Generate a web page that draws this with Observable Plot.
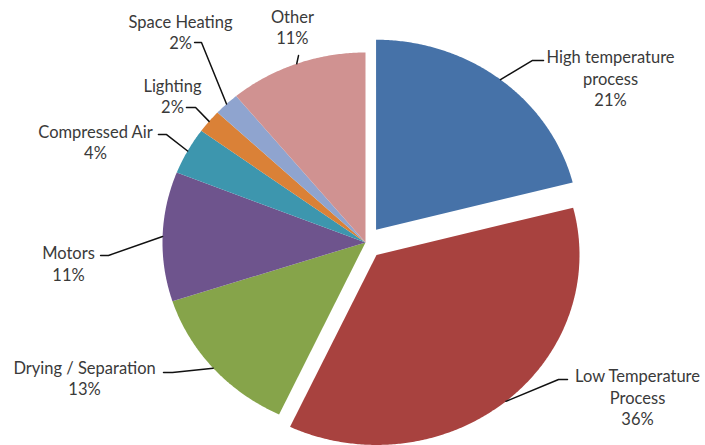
<!DOCTYPE html>
<html><head><meta charset="utf-8">
<script src="https://cdn.jsdelivr.net/npm/d3@7"></script>
<script src="https://cdn.jsdelivr.net/npm/@observablehq/plot@0.6"></script>
<style>body{margin:0;background:#fff}#chart svg{display:block}</style>
</head><body><div id="chart"></div>
<script>
// ---- data ----
const categories = ["High temperature process", "Low Temperature Process", "Drying / Separation", "Motors", "Compressed Air", "Lighting", "Space Heating", "Other"];
const labelLines = ["High temperature\nprocess", "Low Temperature\nProcess", "Drying / Separation", "Motors", "Compressed Air", "Lighting", "Space Heating", "Other"];
const shares = [21, 36, 13, 11, 4, 2, 2, 11];
const percentLabels = ["21%", "36%", "13%", "11%", "4%", "2%", "2%", "11%"];

// ---- style / layout (pie units: radius = 1) ----
const colors = ["#4672A8", "#A8423F", "#86A44A", "#6E548D", "#3D96AE", "#DA8137", "#8FA4CF", "#D09291"];
const explode = [0.085, 0.085, 0, 0, 0, 0, 0, 0];
const labelPos = [[1.207, -0.866], [1.340, 0.813], [-1.384, 0.711], [-1.463, 0.108], [-1.330, -0.532], [-0.951, -0.774], [-0.911, -1.111], [-0.360, -1.137]];
const leaderElbow = [[0.823, -0.958], [0.951, 0.721], [-0.951, 0.684], [-1.266, 0.068], [-0.980, -0.568], [-0.837, -0.711], [-0.808, -1.053], [-0.330, -0.984]];
const leaderEnd = [[0.877, -0.958], [0.995, 0.721], [-0.995, 0.684], [-1.305, 0.068], [-1.020, -0.568], [-0.882, -0.711], [-0.842, -1.053], [-0.330, -0.984]];

// ---- geometry from data ----
const total = d3.sum(shares);
let cum = 0;
const slices = shares.map((v, i) => {
  const a0 = cum / total * 2 * Math.PI;
  cum += v;
  const a1 = cum / total * 2 * Math.PI;
  const mid = (a0 + a1) / 2;
  const ox = explode[i] * Math.sin(mid), oy = -explode[i] * Math.cos(mid);
  return {name: categories[i], a0, a1, mid, ox, oy};
});
const slicePoints = [];
for (const s of slices) {
  slicePoints.push({name: s.name, x: s.ox, y: s.oy});
  const n = Math.max(4, Math.ceil((s.a1 - s.a0) / (Math.PI / 360)));
  for (let k = 0; k <= n; k++) {
    const t = s.a0 + (s.a1 - s.a0) * k / n;
    slicePoints.push({name: s.name, x: s.ox + Math.sin(t), y: s.oy - Math.cos(t)});
  }
}
const leaderPoints = [];
slices.forEach((s, i) => {
  leaderPoints.push({name: s.name, x: s.ox + Math.sin(s.mid), y: s.oy - Math.cos(s.mid)});
  leaderPoints.push({name: s.name, x: leaderElbow[i][0], y: leaderElbow[i][1]});
  leaderPoints.push({name: s.name, x: leaderEnd[i][0], y: leaderEnd[i][1]});
});
const labels = categories.map((c, i) => ({name: c, x: labelPos[i][0], y: labelPos[i][1], text: labelLines[i] + "\n" + percentLabels[i]}));

const chart = Plot.plot({
  width: 705, height: 445, margin: 0,
  style: {background: "#fff"},
  x: {domain: [-1, 1], range: [162, 568], axis: null},
  y: {domain: [-1, 1], range: [52, 432], axis: null},
  color: {domain: categories, range: colors},
  marks: [
    Plot.line(slicePoints, {x: "x", y: "y", z: "name", fill: "name", stroke: "none", curve: "linear-closed"}),
    Plot.line(leaderPoints, {x: "x", y: "y", z: "name", stroke: "#111", strokeWidth: 1.5}),
    Plot.text(labels, {x: "x", y: "y", text: "text", fontSize: 16.5, lineHeight: 1.3, fill: "#3a3a3a", fontFamily: "Lato", textAnchor: "middle", lineAnchor: "middle"})
  ]
});
document.getElementById("chart").appendChild(chart);
</script>
</body></html>
